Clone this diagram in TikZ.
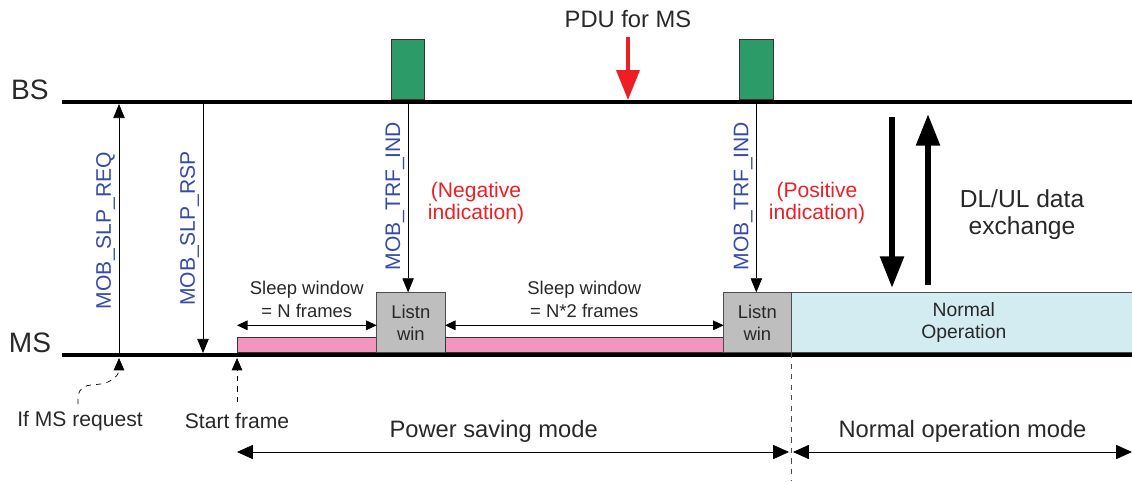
\documentclass[tikz,border=0pt]{standalone}
\usepackage{fontspec}
\setmainfont{Liberation Sans}
\usetikzlibrary{arrows.meta, positioning, calc}
\definecolor{msgblue}{RGB}{55, 75, 165}
\definecolor{pdured}{RGB}{237, 30, 36}
\definecolor{trfgreen}{RGB}{44, 155, 104}
\definecolor{sleeppink}{RGB}{243, 150, 190}
\definecolor{listngray}{RGB}{190, 190, 190}
\definecolor{normalcyan}{RGB}{210, 236, 242}
\definecolor{textgray}{RGB}{40, 40, 40}

\begin{document}
\begin{tikzpicture}[
    x=0.02cm, y=-0.02cm,
    timeline/.style={line width=2.8pt, black},
    msg/.style={-{Triangle[length=8pt, width=6.5pt]}, thin},
    msglabel/.style={font=\fontsize{12pt}{14pt}\selectfont, msgblue, rotate=90, inner sep=2pt},
    dim/.style={{Triangle[length=6pt, width=5.5pt]}-{Triangle[length=6pt, width=5.5pt]}, thin},
    modearrow/.style={{Triangle[length=9pt, width=8pt]}-{Triangle[length=9pt, width=8pt]}, thin},
    bigarrow/.style={-{Triangle[length=18pt, width=13pt]}, line width=3.4pt},
    pdu/.style={-{Triangle[length=17pt, width=13pt]}, line width=2.2pt, pdured},
    listn/.style={draw=black!70, fill=listngray, minimum width=1.38cm, minimum height=1.2cm, anchor=south west, align=center, inner sep=0pt, font=\fontsize{10.5pt}{12.5pt}\selectfont, text=textgray},
    sleepbar/.style={draw=black!80, fill=sleeppink, minimum height=0.3cm, anchor=south west, inner sep=0pt},
    trfbox/.style={draw=black!80, fill=trfgreen, minimum width=0.67cm, minimum height=1.2cm, anchor=south west, inner sep=0pt},
    note/.style={font=\fontsize{10.5pt}{13pt}\selectfont, align=center, text=textgray},
    indication/.style={font=\fontsize{12pt}{13pt}\selectfont, align=center, pdured},
    caption/.style={font=\fontsize{12pt}{14pt}\selectfont, text=textgray}
]
    \useasboundingbox (0,0) rectangle (1132,481);

    % --- BS and MS time lines ---
    \node[font=\fontsize{16pt}{18pt}\selectfont, text=textgray] (bs) at (30,90) {BS};
    \node[font=\fontsize{16pt}{18pt}\selectfont, text=textgray] (ms) at (30,343) {MS};
    \draw[timeline] (62,102) -- (1132,102);
    \draw[timeline] (62,355) -- (1132,355);

    % --- Sleep request / response ---
    \coordinate (req-ms) at (119,357);
    \coordinate (req-bs) at (119,104);
    \coordinate (rsp-bs) at (203,104);
    \coordinate (rsp-ms) at (203,353);
    \draw[msg] (req-ms) -- node[msglabel, above] {MOB\_SLP\_REQ} (req-bs);
    \draw[msg] (rsp-bs) -- node[msglabel, above] {MOB\_SLP\_RSP} (rsp-ms);

    % --- MS side: sleep and listening windows ---
    \node[sleepbar, minimum width=2.78cm] (sb1) at (237,353) {};
    \node[listn] (lw1) at (376,353) {Listn\\win};
    \node[sleepbar, minimum width=5.56cm] (sb2) at (445,353) {};
    \node[listn, minimum width=1.36cm] (lw2) at (723,353) {Listn\\win};
    \node[listn, fill=normalcyan, minimum width=6.9cm, font=\fontsize{11pt}{12.5pt}\selectfont] (normal) at (791,353) {Normal\\Operation};

    \draw[dim] ([yshift=0.24cm]sb1.north west) -- node[note, above=1pt] {Sleep window\\= N frames} ([yshift=0.24cm]sb1.north east);
    \draw[dim] ([yshift=0.24cm]sb2.north west) -- node[note, above=1pt] {Sleep window\\= N*2 frames} ([yshift=0.24cm]sb2.north east);

    % --- Traffic indications ---
    \node[trfbox] (tb1) at (391,100) {};
    \node[trfbox, minimum width=0.68cm] (tb2) at (739,100) {};
    \draw[msg] (tb1.south) -- node[msglabel, above] {MOB\_TRF\_IND} (tb1.south |- lw1.north);
    \draw[msg] (tb2.south) -- node[msglabel, above] {MOB\_TRF\_IND} (tb2.south |- lw2.north);
    \node[indication] (neg) at (476,203) {(Negative\\indication)};
    \node[indication] (pos) at (817,203) {(Positive\\indication)};

    \node[font=\fontsize{13.5pt}{15pt}\selectfont, text=textgray] (pdulbl) at (628,19) {PDU for MS};
    \coordinate (pdu-bs) at (628,100);
    \draw[pdu] ([yshift=-0.07cm]pdulbl.south) -- (pdu-bs);

    % --- DL/UL exchange ---
    \coordinate (dl-top) at (892,117);
    \coordinate (dl-bot) at (892,288);
    \coordinate (ul-bot) at (928,285);
    \coordinate (ul-top) at (928,114);
    \draw[bigarrow] (dl-top) -- (dl-bot);
    \draw[bigarrow] (ul-bot) -- (ul-top);
    \node[font=\fontsize{14pt}{15.5pt}\selectfont, align=center, text=textgray] (dlul) at (1022,215) {DL/UL data\\exchange};

    % --- Notes under MS ---
    \node[caption] (ifreq) at (80,421) {If MS request};
    \node[caption] (start) at (237,421) {Start frame};
    \draw[dashed, thin, -{Triangle[length=7pt, width=6pt]}] (78,404) .. controls (76,378) and (96,388) .. (108,382) .. controls (118,377) and (119,372) .. (119,358);
    \coordinate (start-ms) at (237,358);
    \draw[dashed, thin, -{Triangle[length=7pt, width=6pt]}] ([yshift=0.1cm]start.north) -- (start-ms);

    % --- Modes ---
    \coordinate (div-bot) at (791,481);
    \draw[dashed, thin, black!70] (normal.south west) -- (div-bot);
    \coordinate (ps-left) at (237,452);
    \coordinate (ps-right) at (789,452);
    \coordinate (no-left) at (793,452);
    \coordinate (no-right) at (1132,452);
    \draw[modearrow] (ps-left) -- node[caption, above=2pt, pos=0.465, font=\fontsize{13.5pt}{15pt}\selectfont] {Power saving mode} (ps-right);
    \draw[modearrow] (no-left) -- node[caption, above=2pt, font=\fontsize{13.5pt}{15pt}\selectfont] {Normal operation mode} (no-right);

\end{tikzpicture}
\end{document}
